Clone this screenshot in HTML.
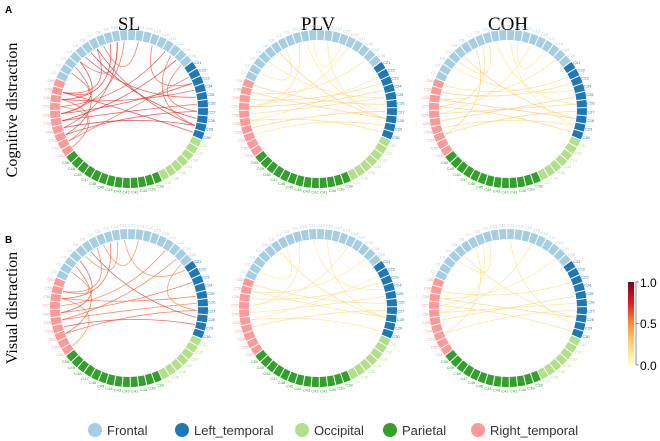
<!DOCTYPE html>
<html><head><meta charset="utf-8">
<style>
body{margin:0;background:#fff;}
svg{display:block;font-family:"Liberation Sans",sans-serif;}
</style></head>
<body>
<svg id="chart" width="660" height="441" viewBox="0 0 660 441">
<defs>
<linearGradient id="cbar" x1="0" y1="1" x2="0" y2="0">
<stop offset="0" stop-color="#ffffcc"/><stop offset="0.25" stop-color="#fed976"/>
<stop offset="0.5" stop-color="#fd8d3c"/><stop offset="0.75" stop-color="#e31a1c"/>
<stop offset="1" stop-color="#800026"/></linearGradient>
</defs>
<text x="5" y="13" font-size="10" font-weight="bold">A</text>
<text x="5" y="243" font-size="10" font-weight="bold">B</text>
<text x="129" y="30" font-size="19" text-anchor="middle" font-family="Liberation Serif,serif">SL</text>
<text x="318" y="30" font-size="19" text-anchor="middle" font-family="Liberation Serif,serif">PLV</text>
<text x="508" y="30" font-size="19" text-anchor="middle" font-family="Liberation Serif,serif">COH</text>
<text transform="translate(17,110) rotate(-90)" font-size="16" text-anchor="middle" font-family="Liberation Serif,serif">Cognitive distraction</text>
<text transform="translate(17,308) rotate(-90)" font-size="16" text-anchor="middle" font-family="Liberation Serif,serif">Visual distraction</text>
<g id="panels"></g>
<g>
<rect x="628" y="282" width="6" height="83" fill="url(#cbar)"/>
<line x1="636" y1="282" x2="636" y2="365" stroke="#777" stroke-width="0.8"/>
<line x1="636" y1="282" x2="639" y2="282" stroke="#777" stroke-width="0.8"/>
<line x1="636" y1="323.5" x2="639" y2="323.5" stroke="#777" stroke-width="0.8"/>
<line x1="636" y1="365" x2="639" y2="365" stroke="#777" stroke-width="0.8"/>
<text x="640" y="287" font-size="12">1.0</text>
<text x="640" y="328" font-size="12">0.5</text>
<text x="640" y="370" font-size="12">0.0</text>
</g>
<g id="legend"></g>
</svg>
<script>
const regionNames=["Frontal","Left_temporal","Occipital","Parietal","Right_temporal"];
const regionColors=["#a6cee3","#1f78b4","#b2df8a","#33a02c","#fb9a99"];
const regionCounts=[20,10,7,13,10];
const sl_a=[[3,55,.8],[5,27,.85],[6,28,.75],[2,52,.7],[8,57,.75],[4,24,.7],[1,58,.7],[52,26,.75],[53,28,.8],[55,22,.75],[57,23,.7],[58,29,.75],[54,25,.7],[51,21,.65],[16,56,.7],[18,54,.75],[10,55,.65],[7,12,.65],[3,9,.65],[50,57,.65],[51,56,.6],[19,26,.65],[17,28,.65],[14,22,.65],[6,58,.7],[9,53,.7]];
const plv_a=[[5,27,.3],[8,56,.25],[22,57,.3],[24,55,.25],[26,53,.3],[28,52,.25],[27,58,.3],[21,54,.25],[3,24,.2],[15,56,.2],[18,58,.25],[12,27,.2],[25,59,.3],[23,56,.3],[1,6,.2],[10,14,.2],[9,26,.2],[29,54,.25]];
const coh_a=[[4,27,.3],[7,56,.25],[22,58,.3],[25,55,.3],[26,52,.3],[28,53,.25],[27,57,.35],[21,59,.25],[2,23,.2],[14,55,.2],[18,57,.25],[11,28,.2],[24,54,.3],[3,8,.25],[12,16,.2],[9,25,.2],[29,56,.3],[6,52,.3]];
const sl_b=[[3,55,.7],[5,27,.7],[2,52,.65],[8,57,.65],[1,58,.6],[52,26,.65],[53,28,.7],[55,22,.65],[57,24,.6],[54,25,.6],[16,56,.6],[18,54,.6],[7,12,.55],[50,57,.55],[19,26,.55],[6,58,.6],[10,20,.55],[4,9,.55]];
const plv_b=[[5,27,.25],[8,56,.2],[22,57,.25],[24,55,.2],[26,53,.25],[27,58,.25],[21,54,.2],[15,56,.2],[18,58,.2],[12,27,.2],[25,59,.25],[1,6,.2],[29,54,.2],[10,23,.2]];
const coh_b=[[4,27,.25],[7,56,.2],[22,58,.25],[25,55,.25],[26,52,.25],[27,57,.3],[14,55,.2],[18,57,.2],[11,28,.2],[24,54,.25],[3,8,.2],[29,56,.25],[6,52,.25]];
const panels=[["sl-cognitive",129,109,sl_a],["plv-cognitive",318,109,plv_a],["coh-cognitive",508,109,coh_a],
["sl-visual",129,308,sl_b],["plv-visual",318,308,plv_b],["coh-visual",508,308,coh_b]];
const NS="http://www.w3.org/2000/svg";
const total=regionCounts.reduce((a,b)=>a+b,0);
const step=360/total;
const startDeg=293;
function ang(i){return (startDeg+(i+0.5)*step)*Math.PI/180;}
function pt(cx,cy,r,a){return [cx+r*Math.sin(a),cy-r*Math.cos(a)];}
function regionOf(i){let s=0;for(let k=0;k<regionCounts.length;k++){s+=regionCounts[k];if(i<s)return k;}return 0;}
function cmap(v){const st=[[0,[255,255,204]],[.25,[254,217,118]],[.5,[253,141,60]],[.75,[227,26,28]],[1,[128,0,38]]];
for(let k=1;k<st.length;k++){if(v<=st[k][0]){const t=(v-st[k-1][0])/(st[k][0]-st[k-1][0]);const a=st[k-1][1],b=st[k][1];
return `rgb(${a.map((x,j)=>Math.round(x+(b[j]-x)*t)).join(",")})`;}}return "rgb(128,0,38)";}
const root=document.getElementById("panels");
const R=79,RW=10,RI=68;
panels.forEach(([name,cx,cy,chords])=>{
 const g=document.createElementNS(NS,"g");
 
 
 root.appendChild(g);
 chords.forEach(([i,j,w],n)=>{
  const p1=pt(cx,cy,RI,ang(i)),p2=pt(cx,cy,RI,ang(j));
  const mx=(p1[0]+p2[0])/2,my=(p1[1]+p2[1])/2;
  const qx=cx+(mx-cx)*0.3,qy=cy+(my-cy)*0.3;
  const path=document.createElementNS(NS,"path");
  path.setAttribute("d",`M${p1[0]},${p1[1]} Q${qx},${qy} ${p2[0]},${p2[1]}`);
  path.setAttribute("fill","none");path.setAttribute("stroke",cmap(w));
  path.setAttribute("stroke-width","0.8");path.setAttribute("opacity","0.7");
  
  
  g.appendChild(path);
 });
 for(let i=0;i<total;i++){
  const a0=(startDeg+i*step+0.4)*Math.PI/180,a1=(startDeg+(i+1)*step-0.4)*Math.PI/180;
  const o0=pt(cx,cy,R,a0),o1=pt(cx,cy,R,a1),n1=pt(cx,cy,R-RW,a1),n0=pt(cx,cy,R-RW,a0);
  const seg=document.createElementNS(NS,"path");
  seg.setAttribute("d",`M${o0} A${R},${R} 0 0 1 ${o1} L${n1} A${R-RW},${R-RW} 0 0 0 ${n0}Z`);
  seg.setAttribute("fill",regionColors[regionOf(i)]);
  
  
  g.appendChild(seg);
  const lp=pt(cx,cy,R+4,ang(i));
  const t=document.createElementNS(NS,"text");
  t.setAttribute("x",lp[0]);t.setAttribute("y",lp[1]+1.5);t.setAttribute("font-size","4");
  t.setAttribute("text-anchor","middle");t.setAttribute("fill",regionColors[regionOf(i)]);
  t.textContent="C"+(i+1);
  
  
  g.appendChild(t);
 }
});
const leg=document.getElementById("legend");
const legX=[95,182,302,390,478];
regionNames.forEach((nm,k)=>{
 const c=document.createElementNS(NS,"circle");
 c.setAttribute("cx",legX[k]);c.setAttribute("cy",430);c.setAttribute("r",7);c.setAttribute("fill",regionColors[k]);
 
 
 leg.appendChild(c);
 const t=document.createElementNS(NS,"text");
 t.setAttribute("x",legX[k]+12);t.setAttribute("y",435);t.setAttribute("font-size","13");t.setAttribute("fill","#333");
 t.textContent=nm;
 
 
 leg.appendChild(t);
});
</script>
</body></html>
